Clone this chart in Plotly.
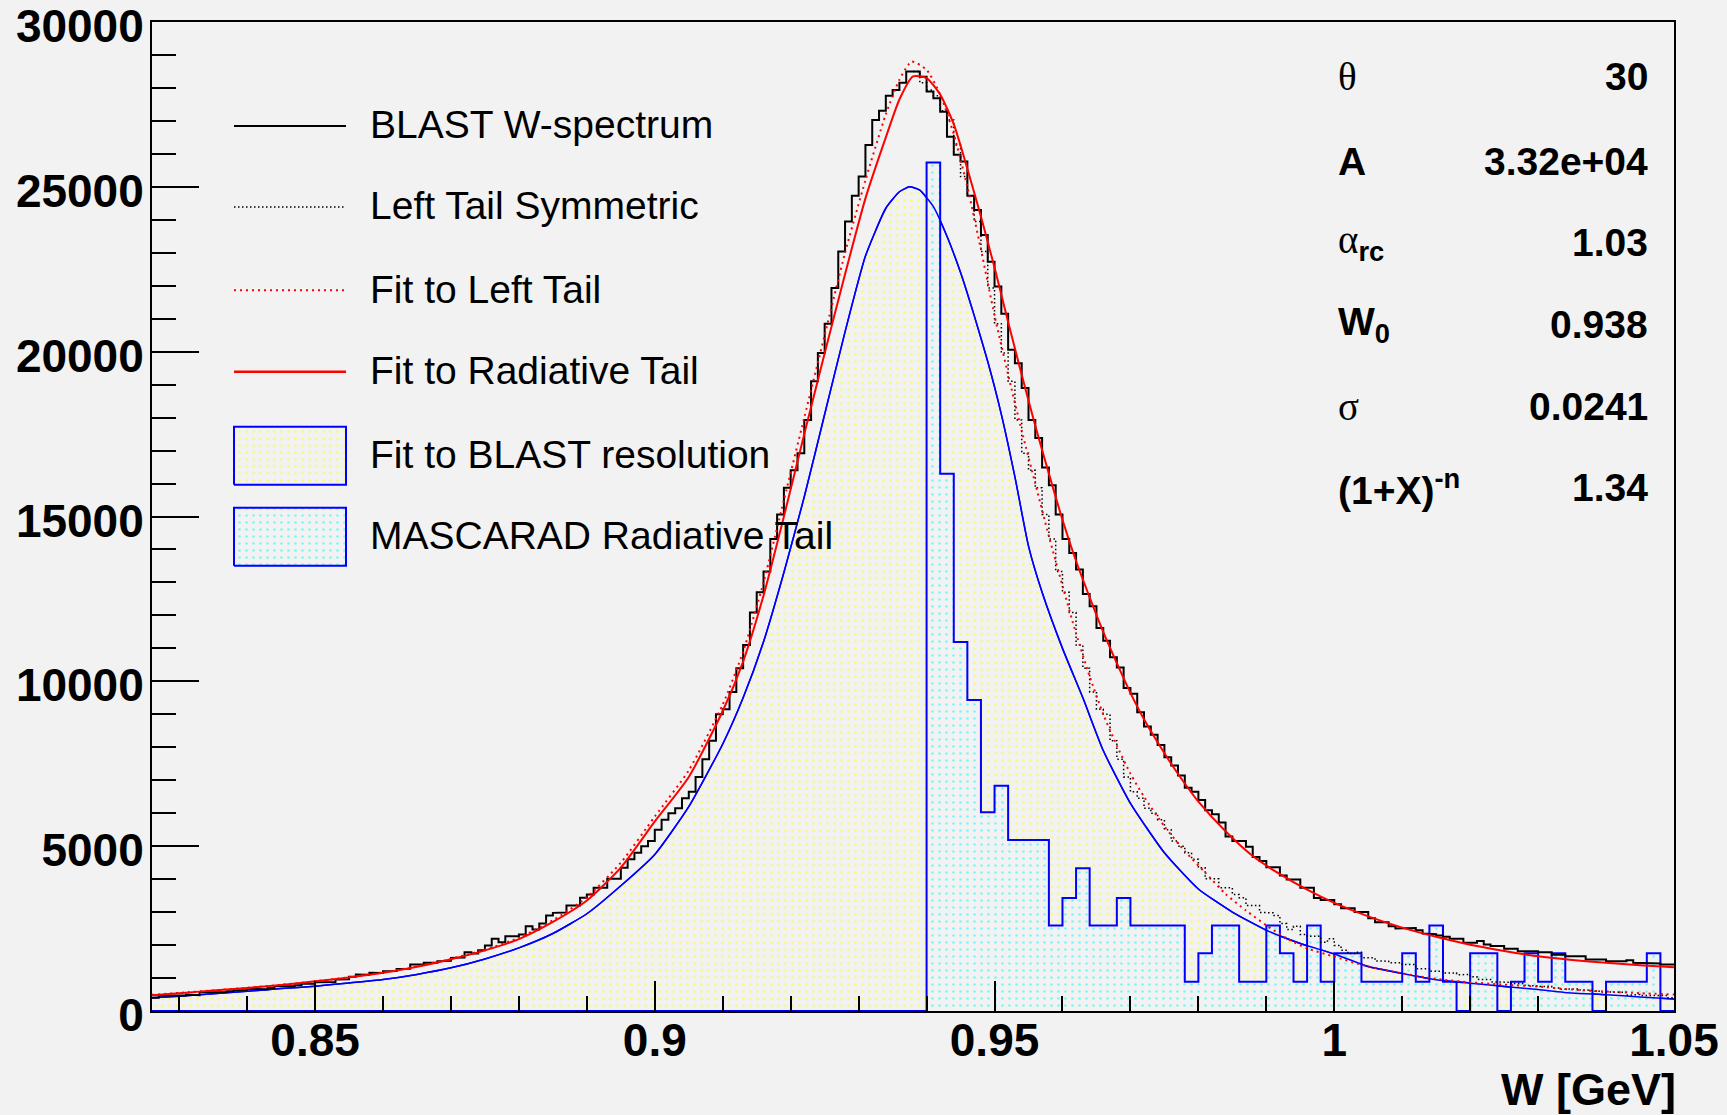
import numpy as np
import plotly.graph_objects as go

# ---------------- data ----------------
BLAST_START = 0.826
BLAST_BIN_W = 0.001
BLAST_COUNTS = [
    400, 470, 470, 480, 470, 500, 480, 570, 560, 580,
    575, 600, 630, 640, 672, 680, 660, 700, 753, 740,
    760, 780, 834, 830, 874, 870, 880, 955, 960, 1036,
    1107, 1100, 1157, 1150, 1207, 1210, 1278, 1280, 1410, 1410,
    1460, 1460, 1511, 1520, 1612, 1620, 1783, 1743, 1844, 1986,
    2188, 2087, 2268, 2268, 2320, 2572, 2471, 2653, 2896, 2977,
    2990, 3199, 3199, 3432, 3532, 3735, 3735, 4008, 4008, 4342,
    4600, 4800, 5000, 5160, 5500, 5800, 6000, 6150, 6450, 6650,
    7100, 7640, 8200, 9000, 9150, 9680, 10400, 11100, 12090, 12700,
    13330, 14320, 15060, 15870, 16400, 16920, 17930, 19100, 19960, 20850,
    21930, 23040, 23950, 24730, 25310, 26270, 27030, 27310, 27760, 27940,
    28160, 28500, 28500, 28340, 27890, 27690, 27280, 26520, 25970, 25770,
    24730, 24300, 23540, 22730, 21980, 21150, 20060, 19650, 18900, 17930,
    17380, 16490, 15950, 15060, 14320, 13890, 13390, 12650, 12280, 11620,
    11230, 10730, 10420, 9800, 9620, 9060, 8630, 8380, 8070, 7700,
    7450, 7140, 6770, 6650, 6400, 6090, 5970, 5720, 5290, 5160,
    5160, 4980, 4670, 4550, 4360, 4360, 4110, 3990, 3990, 3740,
    3740, 3430, 3370, 3370, 3240, 3120, 3120, 3000, 3000, 2810,
    2690, 2690, 2570, 2500, 2500, 2520, 2450, 2350, 2330, 2290,
    2250, 2190, 2190, 2070, 2070, 2120, 2020, 1970, 1970, 1890,
    1890, 1810, 1810, 1810, 1780, 1780, 1710, 1710, 1660, 1660,
    1660, 1560, 1560, 1560, 1510, 1510, 1510, 1540, 1460, 1460,
    1440, 1440, 1410, 1410,
]

LEFT_SYM_START = 0.938
LEFT_SYM_COUNTS = [
    28500, 28160, 27940, 27760, 27310, 27030, 26270, 25310, 24730, 23950,
    23040, 21930, 20850, 19960, 19100, 17930, 16920, 16400, 15870, 15060,
    14320, 13330, 12700, 12090, 11100, 10400, 9680, 9150, 9000, 8200,
    7640, 7100, 6650, 6450, 6150, 6000, 5800, 5500, 5160, 5000,
    4800, 4600, 4342, 4008, 4008, 3735, 3735, 3532, 3432, 3199,
    3199, 2990, 2977, 2896, 2653, 2471, 2572, 2320, 2268, 2268,
    2087, 2188, 1986, 1844, 1743, 1783, 1620, 1612, 1520, 1511,
    1460, 1460, 1410, 1410, 1280, 1278, 1210, 1207, 1150, 1157,
    1100, 1107, 1036, 960, 955, 880, 870, 874, 830, 834,
    780, 760, 740, 753, 700, 660, 680, 672, 640, 630,
    600, 575, 580, 560, 570, 480, 500, 470, 480, 470,
    470, 400,
]

MASC_START = 0.940
MASC_BIN_W = 0.002
MASC_COUNTS = [
    25740, 16300, 11190, 9430, 6030, 6830, 5190, 5190, 5190, 2590,
    3430, 4330, 2590, 2590, 3430, 2590, 2590, 2590, 2590, 890,
    1750, 2590, 2590, 890, 890, 2590, 1750, 890, 2590, 890,
    1750, 1750, 890, 890, 890, 1750, 890, 2590, 890, 0,
    1750, 1750, 0, 890, 1750, 890, 1750, 890, 890, 0,
    890, 890, 890, 1750, 0,
]

W_RAD = [0.826, 0.830, 0.835, 0.840, 0.845, 0.850, 0.855, 0.860, 0.865, 0.870,
         0.875, 0.880, 0.885, 0.890, 0.895, 0.900, 0.905, 0.910, 0.913, 0.916,
         0.919, 0.922, 0.925, 0.928, 0.931, 0.934, 0.936, 0.938, 0.940, 0.942,
         0.944, 0.946, 0.948, 0.950, 0.952, 0.954, 0.956, 0.958, 0.960, 0.962,
         0.964, 0.966, 0.968, 0.970, 0.972, 0.974, 0.976, 0.978, 0.980, 0.984,
         0.988, 0.992, 0.996, 1.000, 1.005, 1.010, 1.015, 1.020, 1.025, 1.030,
         1.035, 1.040, 1.045, 1.050]
FIT_RAD = [480, 540, 620, 700, 790, 900, 1020, 1160, 1340, 1570,
           1840, 2180, 2700, 3350, 4350, 5750, 7100, 9100, 10600, 12600,
           15000, 17500, 19950, 22350, 24650, 26500, 27650, 28350, 28300, 27800,
           26900, 25550, 24100, 22550, 20900, 19300, 17750, 16300, 14900, 13650,
           12550, 11500, 10550, 9650, 8850, 8150, 7500, 6900, 6350, 5450,
           4700, 4150, 3680, 3280, 2870, 2530, 2250, 2010, 1820, 1660,
           1550, 1460, 1390, 1330]

W_LEFT = [0.826, 0.830, 0.835, 0.840, 0.845, 0.850, 0.855, 0.860, 0.865, 0.870,
          0.875, 0.880, 0.885, 0.890, 0.895, 0.900, 0.905, 0.910, 0.913, 0.916,
          0.919, 0.922, 0.925, 0.928, 0.931, 0.934, 0.936, 0.9378, 0.940, 0.942,
          0.944, 0.946, 0.948, 0.950, 0.952, 0.954, 0.956, 0.958, 0.960, 0.962,
          0.964, 0.966, 0.968, 0.970, 0.972, 0.975, 0.978, 0.981, 0.984, 0.987,
          0.990, 0.993, 0.996, 1.000, 1.004, 1.008, 1.012, 1.016, 1.020, 1.025,
          1.030, 1.035, 1.040, 1.045, 1.050]
FIT_LEFT = [490, 550, 625, 705, 795, 900, 1025, 1170, 1350, 1580,
            1860, 2220, 2750, 3450, 4500, 5900, 7300, 9300, 10900, 13000,
            15500, 18000, 20500, 23000, 25200, 27200, 28250, 28800, 28550, 27800,
            26600, 25000, 23100, 21100, 19300, 17600, 16000, 14400, 12900, 11450,
            10150, 9000, 8050, 7200, 6500, 5600, 4850, 4200, 3550, 3050,
            2600, 2200, 1900, 1650, 1400, 1220, 1070, 950, 870, 800,
            740, 650, 590, 540, 500]

W_RES = [0.826, 0.830, 0.835, 0.840, 0.845, 0.850, 0.855, 0.860, 0.865, 0.870,
         0.875, 0.880, 0.885, 0.890, 0.895, 0.900, 0.905, 0.910, 0.913, 0.916,
         0.919, 0.922, 0.925, 0.928, 0.931, 0.934, 0.936, 0.9375, 0.939, 0.941,
         0.943, 0.945, 0.947, 0.949, 0.951, 0.953, 0.955, 0.957, 0.960, 0.963,
         0.966, 0.970, 0.975, 0.980, 0.985, 0.990, 0.995, 1.000, 1.005, 1.010,
         1.015, 1.020, 1.025, 1.030, 1.035, 1.040, 1.045, 1.050]
FIT_RES = [400, 450, 520, 600, 680, 753, 850, 955, 1110, 1309,
           1580, 1915, 2350, 2950, 3800, 4750, 6200, 8100, 9500, 11200,
           13300, 15600, 18100, 20600, 22900, 24350, 24850, 25000, 24900, 24400,
           23500, 22400, 21100, 19700, 18100, 16200, 14100, 12700, 11000, 9500,
           7900, 6300, 4800, 3700, 3000, 2450, 2050, 1730, 1350, 1140,
           950, 845, 745, 650, 545, 495, 425, 365]

LEGEND_LABELS = ["BLAST W-spectrum", "Left Tail Symmetric", "Fit to Left Tail",
                 "Fit to Radiative Tail", "Fit to BLAST resolution",
                 "MASCARAD Radiative Tail"]
SERIF_SPAN = '<span style="font-family:Liberation Serif">{}</span>'
STAT_NAMES = [SERIF_SPAN.format("θ"), "<b>A</b>",
              SERIF_SPAN.format("α") + "<sub><b>rc</b></sub>",
              "<b>W<sub>0</sub></b>", SERIF_SPAN.format("σ"),
              "<b>(1+X)<sup>-n</sup></b>"]
STAT_VALUES = ["30", "3.32e+04", "1.03", "0.938", "0.0241", "1.34"]

X_TICKS = [0.85, 0.9, 0.95, 1.0, 1.05]
X_TICK_TEXT = ["0.85", "0.9", "0.95", "1", "1.05"]
Y_TICKS = [0, 5000, 10000, 15000, 20000, 25000, 30000]
Y_TICK_TEXT = ["0", "5000", "10000", "15000", "20000", "25000", "30000"]
X_RANGE = [0.826, 1.05]
Y_RANGE = [0, 30000]
X_TITLE = "W [GeV]"

# ---------------- helpers ----------------
def hist_steps(start, width, counts, close):
    n = len(counts)
    edges = np.round(start + width * np.arange(n + 1), 6)
    xs = list(np.repeat(edges, 2)[1:-1])
    ys = list(np.repeat(np.array(counts, dtype=float), 2))
    if close:
        xs = [edges[0]] + xs + [edges[-1]]
        ys = [0.0] + ys + [0.0]
    return xs, ys

BG = "#f2f2f2"
FONT = "Liberation Sans"
YELLOW_PAT = dict(shape=".", fgcolor="#ffff00", bgcolor="rgba(0,0,0,0)", size=7, solidity=0.12)
CYAN_PAT = dict(shape=".", fgcolor="#00ffff", bgcolor=BG, size=7, solidity=0.12)
CYAN_PAT_LEG = dict(shape=".", fgcolor="#00ffff", bgcolor="rgba(0,0,0,0)", size=7, solidity=0.12)
BLACK_DOT = "1.5px,2.5px"
RED_DOT = "2px,4px"
BLUE = "#0000ff"

fig = go.Figure()

# Fit to BLAST resolution: yellow dotted area
fig.add_trace(go.Scatter(x=W_RES, y=FIT_RES, mode="lines", fill="tozeroy",
                         fillpattern=YELLOW_PAT, fillcolor="rgba(0,0,0,0)",
                         line=dict(color=BLUE, width=1.5, shape="spline", smoothing=0.5),
                         hoverinfo="skip"))
# baseline outline of the filled function
fig.add_trace(go.Scatter(x=[W_RES[0], W_RES[-1]], y=[0, 0], mode="lines",
                         line=dict(color=BLUE, width=2), hoverinfo="skip"))

# MASCARAD radiative tail histogram
mx, my = hist_steps(MASC_START, MASC_BIN_W, MASC_COUNTS, close=True)
fig.add_trace(go.Scatter(x=mx, y=my, mode="lines", fill="toself",
                         fillpattern=CYAN_PAT, fillcolor="rgba(0,0,0,0)",
                         line=dict(color=BLUE, width=2), hoverinfo="skip"))

# resolution curve redrawn above the MASCARAD fill
fig.add_trace(go.Scatter(x=W_RES, y=FIT_RES, mode="lines",
                         line=dict(color=BLUE, width=1.5, shape="spline", smoothing=0.5),
                         hoverinfo="skip"))

# BLAST W-spectrum histogram
bx, by = hist_steps(BLAST_START, BLAST_BIN_W, BLAST_COUNTS, close=False)
fig.add_trace(go.Scatter(x=bx, y=by, mode="lines",
                         line=dict(color="black", width=2), hoverinfo="skip"))

# Left tail symmetric (dotted histogram)
sx, sy = hist_steps(LEFT_SYM_START, BLAST_BIN_W, LEFT_SYM_COUNTS, close=False)
fig.add_trace(go.Scatter(x=sx, y=sy, mode="lines",
                         line=dict(color="black", width=1.5, dash=BLACK_DOT), hoverinfo="skip"))

# Fit to left tail (red dotted)
fig.add_trace(go.Scatter(x=W_LEFT, y=FIT_LEFT, mode="lines",
                         line=dict(color="#ff0000", width=2, dash=RED_DOT, shape="spline", smoothing=0.6),
                         hoverinfo="skip"))

# Fit to radiative tail (red solid)
fig.add_trace(go.Scatter(x=W_RAD, y=FIT_RAD, mode="lines",
                         line=dict(color="#ff0000", width=2, shape="spline", smoothing=0.6),
                         hoverinfo="skip"))

# ---------------- legend (manual, ROOT style) ----------------
PLOT_L, PLOT_R, PLOT_T, PLOT_B = 152, 1674, 22, 1011.5
def px2fx(px):
    return (px - PLOT_L) / (PLOT_R - PLOT_L)
def py2fy(py):
    return 1 - (py - PLOT_T) / (PLOT_B - PLOT_T)

LEG_X0, LEG_X1, LEG_TX = px2fx(234), px2fx(346), px2fx(368)
LEG_ROWS = [126, 207, 290.5, 372, 456, 537]
LEG_BOX_H = 58

shapes = []
line_styles = [dict(color="black", width=2),
               dict(color="black", width=1.5, dash=BLACK_DOT),
               dict(color="#ff0000", width=2, dash=RED_DOT),
               dict(color="#ff0000", width=2.5)]
for py, st in zip(LEG_ROWS[:4], line_styles):
    shapes.append(dict(type="line", xref="paper", yref="paper",
                       x0=LEG_X0, x1=LEG_X1, y0=py2fy(py), y1=py2fy(py), line=st))

for py, pat in zip(LEG_ROWS[4:], [YELLOW_PAT, CYAN_PAT_LEG]):
    y0, y1 = py2fy(py + LEG_BOX_H / 2), py2fy(py - LEG_BOX_H / 2)
    fig.add_trace(go.Scatter(x=[LEG_X0, LEG_X1, LEG_X1, LEG_X0, LEG_X0],
                             y=[y0, y0, y1, y1, y0], mode="lines", fill="toself",
                             fillpattern=pat, fillcolor="rgba(0,0,0,0)",
                             line=dict(color=BLUE, width=2),
                             xaxis="x2", yaxis="y2", hoverinfo="skip"))

annotations = []
for py, lab in zip(LEG_ROWS, LEGEND_LABELS):
    annotations.append(dict(xref="paper", yref="paper", x=LEG_TX, y=py2fy(py - 1),
                            xanchor="left", yanchor="middle", text=lab, showarrow=False,
                            font=dict(family=FONT, size=39, color="black")))

# ---------------- stats box ----------------
STAT_ROWS = [77, 162, 243, 325, 407, 488]
for py, name, val in zip(STAT_ROWS, STAT_NAMES, STAT_VALUES):
    annotations.append(dict(xref="paper", yref="paper", x=px2fx(1336), y=py2fy(py),
                            xanchor="left", yanchor="middle", text=name, showarrow=False,
                            font=dict(family=FONT, size=39, color="black")))
    annotations.append(dict(xref="paper", yref="paper", x=px2fx(1650), y=py2fy(py),
                            xanchor="right", yanchor="middle", text="<b>" + val + "</b>",
                            showarrow=False, font=dict(family=FONT, size=39, color="black")))

# x-axis title (ROOT style, right aligned)
annotations.append(dict(xref="paper", yref="paper", x=px2fx(PLOT_R + 4), y=py2fy(1090),
                        xanchor="right", yanchor="middle", text="<b>" + X_TITLE + "</b>",
                        showarrow=False, font=dict(family=FONT, size=45, color="black")))

tickfont = dict(family=FONT, size=46, color="black", weight="bold")
fig.update_layout(
    width=1727, height=1115,
    margin=dict(l=PLOT_L, r=1727 - PLOT_R, t=PLOT_T, b=1115 - PLOT_B, autoexpand=False),
    paper_bgcolor=BG, plot_bgcolor=BG,
    showlegend=False,
    shapes=shapes, annotations=annotations,
    xaxis=dict(range=X_RANGE, tickmode="array", tickvals=X_TICKS, ticktext=X_TICK_TEXT,
               ticks="inside", ticklen=30, tickwidth=2, tickcolor="black",
               showline=True, linecolor="black", linewidth=2, mirror=True,
               showgrid=False, zeroline=False, tickfont=tickfont, automargin=False,
               ticklabelstandoff=-12, ticklabeloverflow="allow",
               minor=dict(tickmode="linear", tick0=0.8, dtick=0.01, ticks="inside",
                          ticklen=15, tickwidth=1.5, tickcolor="black", showgrid=False)),
    yaxis=dict(range=Y_RANGE, tickmode="array", tickvals=Y_TICKS, ticktext=Y_TICK_TEXT,
               ticks="inside", ticklen=47, tickwidth=2, tickcolor="black",
               showline=True, linecolor="black", linewidth=2, mirror=True,
               showgrid=False, zeroline=False, tickfont=tickfont, automargin=False,
               ticklabelstandoff=-3, ticklabelshift=4, ticklabeloverflow="allow",
               minor=dict(tickmode="linear", tick0=0, dtick=1000, ticks="inside",
                          ticklen=24, tickwidth=2, tickcolor="black", showgrid=False)),
    xaxis2=dict(overlaying="x", range=[0, 1], visible=False, fixedrange=True),
    yaxis2=dict(overlaying="y", range=[0, 1], visible=False, fixedrange=True),
)

fig.write_html("out.html", config={"displayModeBar": False},
               post_script="document.body.style.margin='0';document.body.style.overflow='hidden';")
